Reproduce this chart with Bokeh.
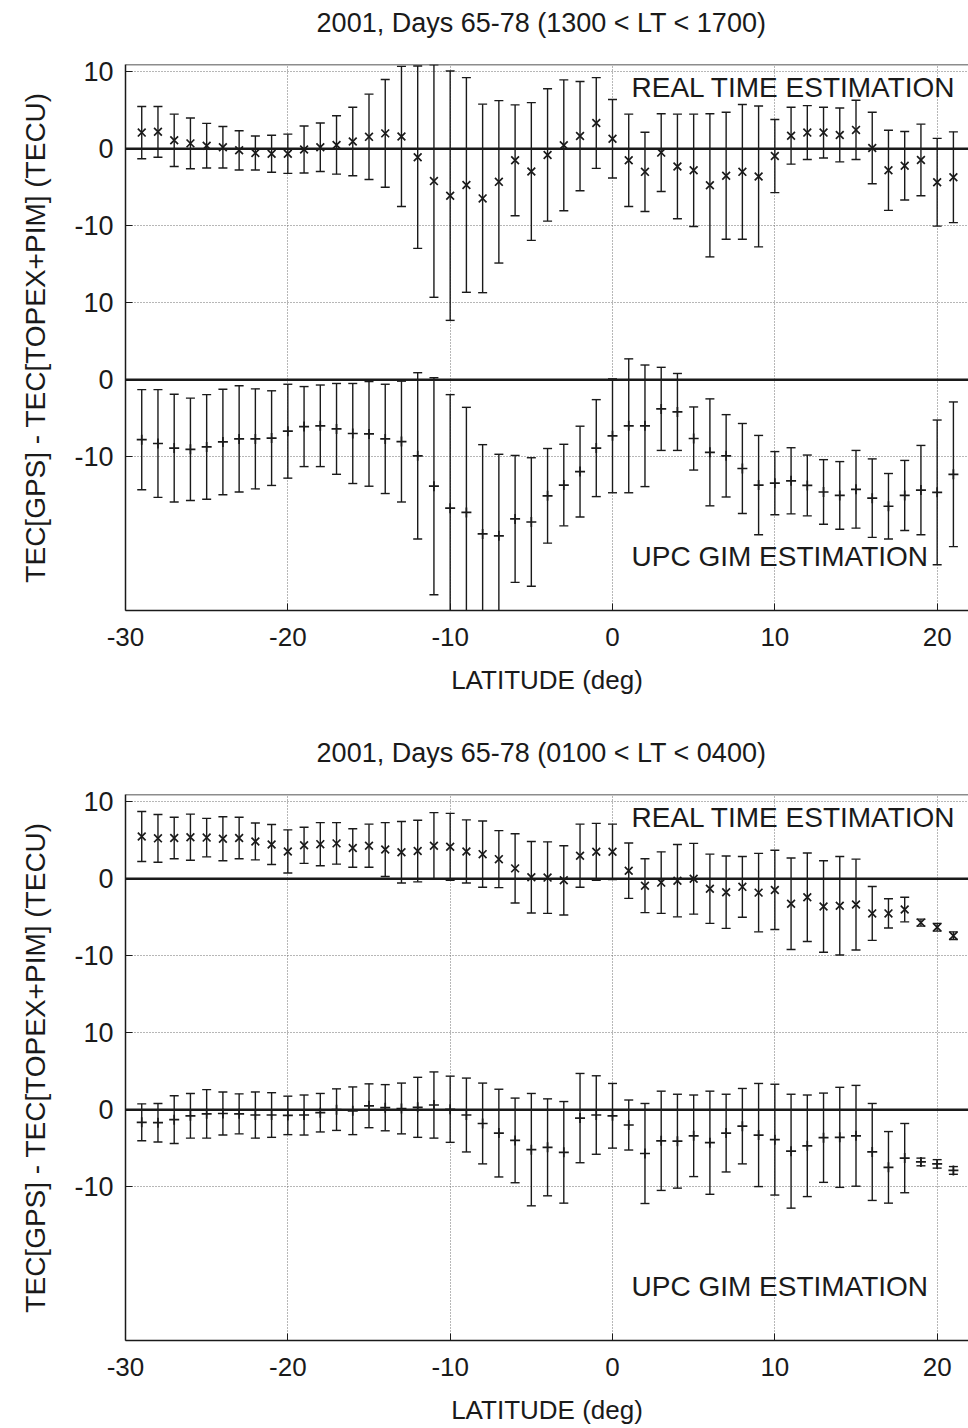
from bokeh.plotting import figure
from bokeh.models import ColumnDataSource, FixedTicker, Span, Label, Range1d
from bokeh.layouts import column
from bokeh.embed import file_html
from bokeh.resources import INLINE

FONT = "Liberation Sans"
OFFSET = 30  # vertical shift of the upper (REAL TIME) sub-panel
Y_TOP = 40.95

lat = [-29, -28, -27, -26, -25, -24, -23, -22, -21, -20,
       -19, -18, -17, -16, -15, -14, -13, -12, -11, -10,
       -9, -8, -7, -6, -5, -4, -3, -2, -1, 0,
       1, 2, 3, 4, 5, 6, 7, 8, 9, 10,
       11, 12, 13, 14, 15, 16, 17, 18, 19, 20, 21]

# Panel 1: 1300 < LT < 1700
rt1_val = [2.1, 2.2, 1.1, 0.7, 0.4, 0.2, -0.2, -0.55, -0.65, -0.65,
           -0.1, 0.2, 0.5, 0.95, 1.55, 2.0, 1.6, -1.1, -4.2, -6.1,
           -4.7, -6.45, -4.3, -1.5, -2.95, -0.8, 0.45, 1.65, 3.35, 1.3,
           -1.5, -3.0, -0.5, -2.3, -2.8, -4.75, -3.5, -3.0, -3.6, -0.95,
           1.7, 2.1, 2.1, 1.8, 2.45, 0.1, -2.8, -2.2, -1.45, -4.35, -3.7]
rt1_err = [3.4, 3.3, 3.4, 3.3, 2.9, 2.7, 2.55, 2.2, 2.4, 2.55,
           3.05, 3.15, 3.8, 4.45, 5.55, 7.0, 9.1, 11.85, 15.1, 16.2,
           13.95, 12.25, 10.55, 7.2, 8.95, 8.6, 8.5, 7.1, 5.9, 5.1,
           6.0, 5.15, 5.05, 6.8, 7.3, 9.3, 8.25, 8.75, 9.15, 4.75,
           3.7, 3.5, 3.3, 3.5, 3.85, 4.65, 5.2, 4.45, 4.65, 5.7, 5.9]
gim1_val = [-7.8, -8.3, -8.9, -9.05, -8.75, -8.1, -7.7, -7.7, -7.6, -6.7,
            -6.1, -6.0, -6.4, -7.0, -7.05, -7.7, -8.05, -9.9, -13.85, -16.7,
            -17.25, -20.05, -20.3, -18.1, -18.5, -15.1, -13.7, -11.95, -8.9, -7.3,
            -6.0, -6.0, -3.8, -4.2, -7.65, -9.45, -9.9, -11.55, -13.7, -13.45,
            -13.15, -13.75, -14.6, -15.05, -14.25, -15.4, -16.45, -15.05, -14.35, -14.65, -12.3]
gim1_err = [6.5, 7.0, 7.0, 6.65, 6.8, 6.85, 6.9, 6.5, 6.15, 6.1,
            5.2, 5.3, 5.9, 6.5, 6.8, 7.1, 7.85, 10.8, 14.1, 14.75,
            13.65, 11.6, 10.6, 8.25, 8.35, 6.15, 5.3, 5.9, 6.3, 7.4,
            8.7, 7.9, 5.4, 5.0, 4.1, 6.95, 5.35, 5.85, 6.45, 4.1,
            4.3, 3.95, 4.2, 4.4, 5.05, 5.1, 4.25, 4.55, 5.8, 9.4, 9.4]

# Panel 2: 0100 < LT < 0400
rt2_val = [5.5, 5.25, 5.3, 5.4, 5.35, 5.2, 5.3, 4.85, 4.45, 3.55,
           4.35, 4.5, 4.6, 4.0, 4.3, 3.8, 3.45, 3.6, 4.3, 4.15,
           3.55, 3.2, 2.55, 1.35, 0.2, 0.15, -0.2, 3.0, 3.5, 3.5,
           1.05, -0.9, -0.5, -0.25, 0.0, -1.3, -1.75, -1.05, -1.8, -1.45,
           -3.25, -2.4, -3.6, -3.5, -3.35, -4.5, -4.5, -4.0, -5.7, -6.3, -7.4]
rt2_err = [3.25, 3.1, 2.7, 3.0, 2.5, 2.85, 2.7, 2.4, 2.6, 2.8,
           2.35, 2.8, 2.7, 2.5, 2.8, 3.5, 4.0, 4.0, 4.3, 4.35,
           4.1, 4.3, 3.7, 4.5, 4.65, 4.65, 4.5, 4.1, 3.7, 3.6,
           3.6, 3.5, 4.0, 4.7, 4.6, 4.5, 4.7, 3.95, 5.1, 5.15,
           5.95, 5.75, 5.95, 6.4, 5.9, 3.5, 1.9, 1.6, 0.45, 0.5, 0.5]
gim2_val = [-1.65, -1.7, -1.3, -0.8, -0.55, -0.5, -0.55, -0.7, -0.7, -0.75,
            -0.7, -0.4, 0.0, -0.15, 0.5, 0.25, 0.15, 0.3, 0.6, 0.05,
            -0.7, -1.8, -3.05, -4.0, -5.2, -4.9, -5.55, -1.1, -0.7, -0.8,
            -2.0, -5.7, -4.05, -4.1, -3.4, -4.3, -3.05, -2.15, -3.3, -3.9,
            -5.4, -4.7, -3.65, -3.6, -3.4, -5.5, -7.5, -6.3, -6.8, -7.05, -7.9]
gim2_err = [2.4, 2.5, 3.1, 2.9, 3.15, 2.8, 2.6, 3.0, 2.9, 2.5,
            2.6, 2.5, 2.7, 3.1, 2.85, 3.0, 3.3, 3.9, 4.3, 4.3,
            4.8, 5.25, 5.7, 5.5, 7.3, 6.3, 6.6, 5.8, 5.1, 4.2,
            3.25, 6.5, 6.45, 6.1, 5.3, 6.7, 5.05, 4.9, 6.7, 7.2,
            7.4, 6.6, 5.8, 6.5, 6.55, 6.3, 4.65, 4.5, 0.5, 0.55, 0.5]

titles = ["2001, Days 65-78 (1300 < LT < 1700)", "2001, Days 65-78 (0100 < LT < 0400)"]
x_ticks = [-30, -20, -10, 0, 10, 20]
x_tick_labels = {-30: "-30", -20: "-20", -10: "-10", 0: "0", 10: "10", 20: "20"}
y_ticks = [-10, 0, 10, 20, 30, 40]
y_tick_labels = {-10: "-10", 0: "0", 10: "10", 20: "-10", 30: "0", 40: "10"}
label_rt = "REAL TIME ESTIMATION"
label_gim = "UPC GIM ESTIMATION"
x_label = "LATITUDE (deg)"
y_label = "TEC[GPS] - TEC[TOPEX+PIM] (TECU)"

INK = "#1a1a1a"
W = 968
BORDER_LEFT = 125
TITLE_H = 44
BORDER_TOP = 20
FRAME_H = 546
TITLE_CX = 541  # horizontal centre of the titles, in page pixels


def title_strip(text):
    # the column aligns this frame with the panel frames below (left edge at BORDER_LEFT)
    t = figure(width=W, height=TITLE_H, x_range=Range1d(BORDER_LEFT, W), y_range=Range1d(0, TITLE_H),
               output_backend="svg", toolbar_location=None,
               x_axis_location=None, y_axis_location=None,
               min_border_left=BORDER_LEFT, min_border_right=0,
               min_border_top=0, min_border_bottom=0,
               background_fill_color="white", border_fill_color="white")
    t.outline_line_color = None
    t.grid.visible = False
    t.add_layout(Label(x=TITLE_CX, y=TITLE_H / 2, text=text, text_font=FONT,
                       text_font_size="27px", text_color=INK,
                       text_align="center", text_baseline="middle"))
    return t


def add_series(p, vals, errs, shift, marker, msize):
    y = [v + shift for v in vals]
    lo = [v + shift - e for v, e in zip(vals, errs)]
    hi = [v + shift + e for v, e in zip(vals, errs)]
    src = ColumnDataSource(dict(x=lat, y=y, lo=lo, hi=hi))
    p.segment(x0="x", y0="lo", x1="x", y1="hi", source=src, line_color=INK, line_width=1.4)
    p.scatter(x="x", y="lo", source=src, marker="dash", size=9, line_color=INK, line_width=1.4)
    p.scatter(x="x", y="hi", source=src, marker="dash", size=9, line_color=INK, line_width=1.4)
    p.scatter(x="x", y="y", source=src, marker=marker, size=msize, line_color=INK, line_width=1.7)


def make_panel(rt_val, rt_err, gim_val, gim_err, border_bottom):
    p = figure(width=W, height=BORDER_TOP + FRAME_H + border_bottom,
               x_range=Range1d(-30, 21.93), y_range=Range1d(-30, Y_TOP),
               output_backend="svg", toolbar_location=None,
               min_border_left=BORDER_LEFT, min_border_right=0,
               min_border_top=BORDER_TOP, min_border_bottom=border_bottom,
               background_fill_color="white", border_fill_color="white")
    p.outline_line_color = None

    # axes
    p.xaxis.ticker = FixedTicker(ticks=x_ticks)
    p.xaxis.major_label_overrides = x_tick_labels
    p.yaxis.ticker = FixedTicker(ticks=y_ticks)
    p.yaxis.major_label_overrides = y_tick_labels
    for ax in (p.xaxis[0], p.yaxis[0]):
        ax.major_tick_in = 7
        ax.major_tick_out = 0
        ax.minor_tick_in = 0
        ax.minor_tick_out = 0
        ax.axis_line_color = INK
        ax.axis_line_width = 1.5
        ax.major_tick_line_color = INK
        ax.major_label_text_font = FONT
        ax.major_label_text_color = INK
        ax.axis_label_text_font = FONT
        ax.axis_label_text_font_style = "normal"
        ax.axis_label_text_color = INK
    p.xaxis.major_label_text_font_size = "26px"
    p.yaxis.major_label_text_font_size = "27px"
    p.xaxis.axis_label_text_font_size = "26px"
    p.yaxis.axis_label_text_font_size = "28px"
    p.xaxis.axis_label = x_label
    p.yaxis.axis_label = y_label
    p.xaxis.major_label_standoff = 17
    p.xaxis.axis_label_standoff = 16
    p.yaxis.major_label_standoff = 12
    p.yaxis.axis_label_standoff = 20

    # grid
    p.xgrid.ticker = FixedTicker(ticks=[-20, -10, 0, 10, 20])
    p.ygrid.ticker = FixedTicker(ticks=[-10, 10, 20, 40])
    for g in (p.xgrid[0], p.ygrid[0]):
        g.grid_line_color = "#6e6e6e"
        g.grid_line_dash = "1 2"
        g.grid_line_width = 1

    # frame top border and zero lines
    p.add_layout(Span(location=Y_TOP, dimension="width", line_color=INK, line_width=1.5))
    p.add_layout(Span(location=0, dimension="width", line_color=INK, line_width=2.5))
    p.add_layout(Span(location=OFFSET, dimension="width", line_color=INK, line_width=2.5))

    add_series(p, rt_val, rt_err, OFFSET, "x", 11)
    add_series(p, gim_val, gim_err, 0, "cross", 10)

    p.add_layout(Label(x=1.17, y=37.9, text=label_rt, text_font=FONT, text_font_size="28px",
                       text_color=INK, text_align="left", text_baseline="middle"))
    p.add_layout(Label(x=1.17, y=-23.0, text=label_gim, text_font=FONT, text_font_size="28px",
                       text_color=INK, text_align="left", text_baseline="middle"))
    return p


t1 = title_strip(titles[0])
p1 = make_panel(rt1_val, rt1_err, gim1_val, gim1_err, 120)
t2 = title_strip(titles[1])
p2 = make_panel(rt2_val, rt2_err, gim2_val, gim2_err, 88)

layout = column(t1, p1, t2, p2, spacing=0)
open("out.html", "w").write(file_html(layout, INLINE))
